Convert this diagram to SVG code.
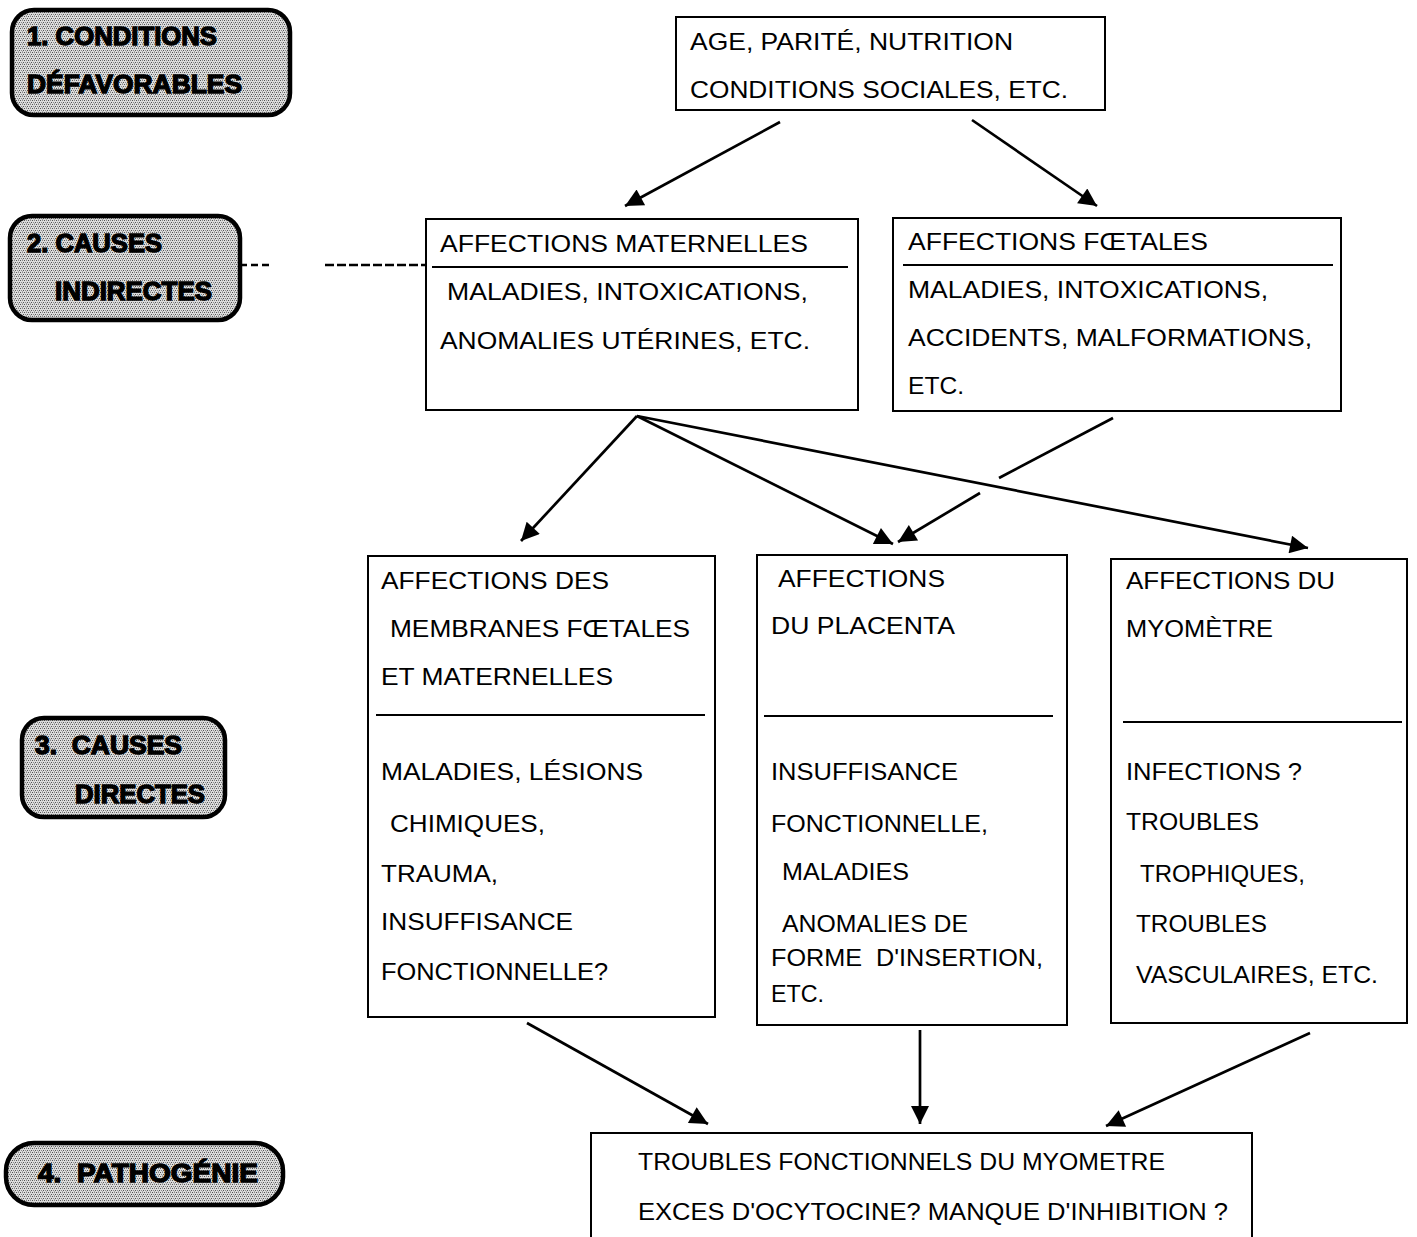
<svg xmlns="http://www.w3.org/2000/svg" width="1417" height="1237" viewBox="0 0 1417 1237">
<defs>
<pattern id="stip" width="4" height="4" patternUnits="userSpaceOnUse">
<rect width="4" height="4" fill="#dcdcdc"/>
<rect x="0" y="0" width="1" height="1" fill="#555"/>
<rect x="2" y="0" width="1" height="1" fill="#888"/>
<rect x="1" y="2" width="1" height="1" fill="#888"/>
<rect x="3" y="2" width="1" height="1" fill="#555"/>
<rect x="2" y="3" width="1" height="1" fill="#aaa"/>
</pattern>
<marker id="ah" viewBox="0 0 10 10" refX="10" refY="5" markerWidth="24" markerHeight="18" markerUnits="userSpaceOnUse" orient="auto">
<path d="M0,0 L10,5 L0,10 z" fill="#000"/>
</marker>
<style>
.lbl{fill:url(#stip);stroke:#000;stroke-width:4.5}
.lt{font-family:"Liberation Sans",Arial,sans-serif;font-weight:bold;font-size:25px;fill:#000;stroke:#000;stroke-width:1.3}
.box{fill:#fff;stroke:#000;stroke-width:2}
.sep{stroke:#000;stroke-width:2}
.t{font-family:"Liberation Sans",Arial,sans-serif;font-size:24px;fill:#000}
.c{stroke:#000;stroke-width:2.7;fill:none}
.cm{stroke:#000;stroke-width:2.7;fill:none;marker-end:url(#ah)}
</style>
</defs>
<rect width="1417" height="1237" fill="#fff"/>

<g id="label1">
<rect class="lbl" x="12" y="10" width="278" height="105" rx="22"/>
<text class="lt" x="27" y="45" textLength="190" lengthAdjust="spacingAndGlyphs">1. CONDITIONS</text>
<text class="lt" x="27" y="93" textLength="215" lengthAdjust="spacingAndGlyphs">DÉFAVORABLES</text>
</g>
<g id="label2">
<rect class="lbl" x="10" y="216" width="230" height="104" rx="22"/>
<text class="lt" x="27" y="252" textLength="135" lengthAdjust="spacingAndGlyphs">2. CAUSES</text>
<text class="lt" x="55" y="300" textLength="157" lengthAdjust="spacingAndGlyphs">INDIRECTES</text>
</g>
<g id="label3">
<rect class="lbl" x="22" y="718" width="203" height="99" rx="22"/>
<text class="lt" x="35" y="754" textLength="147" lengthAdjust="spacingAndGlyphs" xml:space="preserve">3.  CAUSES</text>
<text class="lt" x="75" y="803" textLength="130" lengthAdjust="spacingAndGlyphs">DIRECTES</text>
</g>
<g id="label4">
<rect class="lbl" x="6" y="1143" width="277" height="62" rx="28"/>
<text class="lt" x="38" y="1182" textLength="220" lengthAdjust="spacingAndGlyphs" xml:space="preserve">4.  PATHOGÉNIE</text>
</g>

<g id="top">
<rect class="box" x="676" y="17" width="429" height="93"/>
<text class="t" x="690" y="50" textLength="323" lengthAdjust="spacingAndGlyphs">AGE, PARITÉ, NUTRITION</text>
<text class="t" x="690" y="98" textLength="378" lengthAdjust="spacingAndGlyphs">CONDITIONS SOCIALES, ETC.</text>
</g>

<g id="maternelles">
<rect class="box" x="426" y="219" width="432" height="191"/>
<line class="sep" x1="432" y1="267" x2="848" y2="267"/>
<text class="t" x="440" y="252" textLength="368" lengthAdjust="spacingAndGlyphs">AFFECTIONS MATERNELLES</text>
<text class="t" x="447" y="300" textLength="361" lengthAdjust="spacingAndGlyphs">MALADIES, INTOXICATIONS,</text>
<text class="t" x="440" y="349" textLength="370" lengthAdjust="spacingAndGlyphs">ANOMALIES UTÉRINES, ETC.</text>
</g>

<g id="foetales">
<rect class="box" x="893" y="218" width="448" height="193"/>
<line class="sep" x1="903" y1="265" x2="1333" y2="265"/>
<text class="t" x="908" y="250" textLength="300" lengthAdjust="spacingAndGlyphs">AFFECTIONS FŒTALES</text>
<text class="t" x="908" y="298" textLength="360" lengthAdjust="spacingAndGlyphs">MALADIES, INTOXICATIONS,</text>
<text class="t" x="908" y="346" textLength="404" lengthAdjust="spacingAndGlyphs">ACCIDENTS, MALFORMATIONS,</text>
<text class="t" x="908" y="394" textLength="56" lengthAdjust="spacingAndGlyphs">ETC.</text>
</g>

<g id="membranes">
<rect class="box" x="368" y="556" width="347" height="461"/>
<line class="sep" x1="376" y1="715" x2="705" y2="715"/>
<text class="t" x="381" y="589" textLength="228" lengthAdjust="spacingAndGlyphs">AFFECTIONS DES</text>
<text class="t" x="390" y="637" textLength="300" lengthAdjust="spacingAndGlyphs">MEMBRANES FŒTALES</text>
<text class="t" x="381" y="685" textLength="232" lengthAdjust="spacingAndGlyphs">ET MATERNELLES</text>
<text class="t" x="381" y="780" textLength="262" lengthAdjust="spacingAndGlyphs">MALADIES, LÉSIONS</text>
<text class="t" x="390" y="832" textLength="155" lengthAdjust="spacingAndGlyphs">CHIMIQUES,</text>
<text class="t" x="381" y="882" textLength="117" lengthAdjust="spacingAndGlyphs">TRAUMA,</text>
<text class="t" x="381" y="930" textLength="192" lengthAdjust="spacingAndGlyphs">INSUFFISANCE</text>
<text class="t" x="381" y="980" textLength="227" lengthAdjust="spacingAndGlyphs">FONCTIONNELLE?</text>
</g>

<g id="placenta">
<rect class="box" x="757" y="555" width="310" height="470"/>
<line class="sep" x1="764" y1="716" x2="1053" y2="716"/>
<text class="t" x="778" y="587" textLength="167" lengthAdjust="spacingAndGlyphs">AFFECTIONS</text>
<text class="t" x="771" y="634" textLength="184" lengthAdjust="spacingAndGlyphs">DU PLACENTA</text>
<text class="t" x="771" y="780" textLength="187" lengthAdjust="spacingAndGlyphs">INSUFFISANCE</text>
<text class="t" x="771" y="832" textLength="217" lengthAdjust="spacingAndGlyphs">FONCTIONNELLE,</text>
<text class="t" x="782" y="880" textLength="127" lengthAdjust="spacingAndGlyphs">MALADIES</text>
<text class="t" x="782" y="932" textLength="186" lengthAdjust="spacingAndGlyphs">ANOMALIES DE</text>
<text class="t" x="771" y="966" textLength="272" lengthAdjust="spacingAndGlyphs" xml:space="preserve">FORME  D'INSERTION,</text>
<text class="t" x="771" y="1002" textLength="53" lengthAdjust="spacingAndGlyphs">ETC.</text>
</g>

<g id="myometre">
<rect class="box" x="1111" y="559" width="296" height="464"/>
<line class="sep" x1="1123" y1="722" x2="1402" y2="722"/>
<text class="t" x="1126" y="589" textLength="209" lengthAdjust="spacingAndGlyphs">AFFECTIONS DU</text>
<text class="t" x="1126" y="637" textLength="147" lengthAdjust="spacingAndGlyphs">MYOMÈTRE</text>
<text class="t" x="1126" y="780" textLength="176" lengthAdjust="spacingAndGlyphs">INFECTIONS ?</text>
<text class="t" x="1126" y="830" textLength="133" lengthAdjust="spacingAndGlyphs">TROUBLES</text>
<text class="t" x="1140" y="882" textLength="165" lengthAdjust="spacingAndGlyphs">TROPHIQUES,</text>
<text class="t" x="1136" y="932" textLength="131" lengthAdjust="spacingAndGlyphs">TROUBLES</text>
<text class="t" x="1136" y="983" textLength="242" lengthAdjust="spacingAndGlyphs">VASCULAIRES, ETC.</text>
</g>

<g id="pathogenie">
<rect class="box" x="591" y="1133" width="661" height="110"/>
<text class="t" x="638" y="1170" textLength="527" lengthAdjust="spacingAndGlyphs">TROUBLES FONCTIONNELS DU MYOMETRE</text>
<text class="t" x="638" y="1220" textLength="590" lengthAdjust="spacingAndGlyphs">EXCES D'OCYTOCINE? MANQUE D'INHIBITION ?</text>
</g>

<g id="connectors">
<line class="c" x1="240" y1="265" x2="272" y2="265" stroke-dasharray="7 4" stroke-width="1.2"/>
<line class="c" x1="325" y1="265" x2="425" y2="265" stroke-dasharray="9 3" stroke-width="1.2"/>
<line class="cm" x1="780" y1="122" x2="625" y2="206"/>
<line class="cm" x1="972" y1="120" x2="1097" y2="206"/>
<line class="cm" x1="637" y1="416" x2="521" y2="541"/>
<line class="cm" x1="637" y1="416" x2="893" y2="544"/>
<line class="cm" x1="637" y1="416" x2="1308" y2="548"/>
<line class="c" x1="1113" y1="418" x2="999" y2="478"/>
<line class="cm" x1="980" y1="493" x2="898" y2="542"/>
<line class="cm" x1="527" y1="1023" x2="708" y2="1124"/>
<line class="cm" x1="920" y1="1030" x2="920" y2="1124"/>
<line class="cm" x1="1310" y1="1033" x2="1106" y2="1126"/>
</g>
</svg>
